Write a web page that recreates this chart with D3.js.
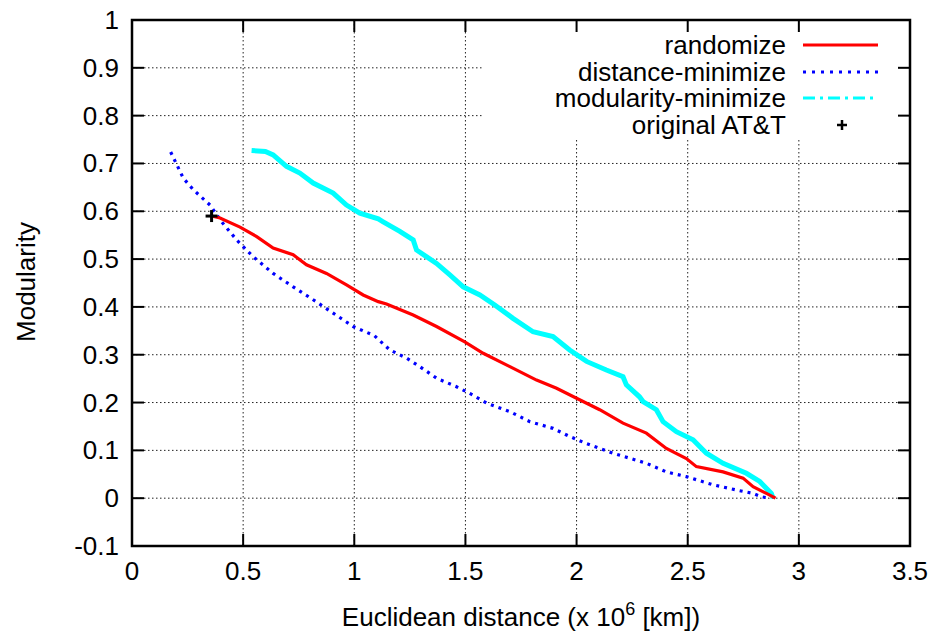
<!DOCTYPE html>
<html>
<head>
<meta charset="utf-8">
<script src="https://cdn.jsdelivr.net/npm/d3@7"></script>
<style>
  body { margin: 0; background: #fff; }
  svg { font-family: "Liberation Sans", Arial, Helvetica, sans-serif; }
  .grid line { stroke: #222; stroke-width: 1; stroke-dasharray: 1.5,2.5; }
</style>
</head>
<body>
<svg id="chart" width="937" height="635"></svg>
<script>
// values: [distance (x 10^6 km), modularity]
const randomize = [
  [0.358, 0.590], [0.396, 0.586], [0.486, 0.567], [0.561, 0.547], [0.635, 0.523],
  [0.725, 0.509], [0.785, 0.488], [0.875, 0.470], [0.965, 0.446], [1.040, 0.425],
  [1.108, 0.411], [1.145, 0.406], [1.265, 0.383], [1.370, 0.359], [1.497, 0.327],
  [1.580, 0.303], [1.700, 0.275], [1.820, 0.247], [1.910, 0.230], [2.000, 0.209],
  [2.104, 0.185], [2.209, 0.157], [2.314, 0.136], [2.404, 0.104], [2.494, 0.083],
  [2.539, 0.066], [2.659, 0.055], [2.749, 0.042], [2.794, 0.024], [2.854, 0.010],
  [2.895, 0.000]
];
const distanceMin = [
  [0.174, 0.724], [0.231, 0.669], [0.276, 0.645], [0.351, 0.613], [0.403, 0.578],
  [0.471, 0.540], [0.545, 0.505], [0.635, 0.470], [0.725, 0.442], [0.815, 0.415],
  [0.905, 0.387], [0.995, 0.359], [1.090, 0.340], [1.160, 0.310], [1.235, 0.293],
  [1.295, 0.275], [1.370, 0.251], [1.460, 0.233], [1.520, 0.219], [1.595, 0.199],
  [1.700, 0.181], [1.790, 0.160], [1.894, 0.146], [1.969, 0.129], [2.040, 0.115],
  [2.164, 0.094], [2.314, 0.073], [2.404, 0.055], [2.494, 0.045], [2.614, 0.028],
  [2.719, 0.017], [2.794, 0.010], [2.831, 0.003], [2.869, 0.000]
];
const modularityMin = [
  [0.538, 0.727], [0.600, 0.725], [0.635, 0.718], [0.695, 0.694], [0.755, 0.680],
  [0.815, 0.659], [0.905, 0.638], [0.965, 0.613], [1.025, 0.596], [1.108, 0.584],
  [1.130, 0.578], [1.205, 0.558], [1.265, 0.540], [1.280, 0.519], [1.370, 0.491],
  [1.430, 0.467], [1.490, 0.442], [1.565, 0.425], [1.632, 0.404], [1.714, 0.376],
  [1.804, 0.348], [1.894, 0.338], [1.969, 0.310], [2.045, 0.286], [2.134, 0.268],
  [2.209, 0.254], [2.224, 0.237], [2.283, 0.212], [2.299, 0.202], [2.359, 0.185],
  [2.389, 0.160], [2.449, 0.139], [2.524, 0.122], [2.584, 0.094], [2.659, 0.073],
  [2.764, 0.052], [2.824, 0.035], [2.876, 0.010], [2.884, 0.000]
];
const originalATT = [[0.358, 0.590]];

const xTicks = [0, 0.5, 1, 1.5, 2, 2.5, 3, 3.5];
const yTicks = [-0.1, 0, 0.1, 0.2, 0.3, 0.4, 0.5, 0.6, 0.7, 0.8, 0.9, 1];
const legendNames = ["randomize", "distance-minimize", "modularity-minimize", "original AT&T"];

const plotL = 132, plotR = 910, plotT = 20, plotB = 546;
const fontSize = 26;
const svg = d3.select("#chart");
const x = d3.scaleLinear().domain([0, 3.5]).range([plotL, plotR]);
const y = d3.scaleLinear().domain([-0.1, 1]).range([plotB, plotT]);

// grid
let grid = svg.append("g").attr("class", "grid");
grid.selectAll("line.v").data(xTicks.slice(1, -1)).join("line")
    .attr("class", "v")
    .attr("x1", d => x(d)).attr("x2", d => x(d))
    .attr("y1", plotT).attr("y2", plotB);
grid.selectAll("line.h").data(yTicks.slice(1, -1)).join("line")
    .attr("class", "h")
    .attr("x1", plotL).attr("x2", plotR)
    .attr("y1", d => y(d)).attr("y2", d => y(d));

// key background hides grid behind it
svg.append("rect")
    .attr("x", 484).attr("y", plotT + 1)
    .attr("width", plotR - 485).attr("height", 119)
    .attr("fill", "#fff");

// axes with inward ticks, mirrored on top/right
const tickLen = 12;
let axes = svg.append("g").attr("stroke", "#000").attr("stroke-width", 2);
xTicks.forEach(t => {
    axes.append("line").attr("x1", x(t)).attr("x2", x(t)).attr("y1", plotB).attr("y2", plotB - tickLen);
    axes.append("line").attr("x1", x(t)).attr("x2", x(t)).attr("y1", plotT).attr("y2", plotT + tickLen);
});
yTicks.forEach(t => {
    axes.append("line").attr("x1", plotL).attr("x2", plotL + tickLen).attr("y1", y(t)).attr("y2", y(t));
    axes.append("line").attr("x1", plotR).attr("x2", plotR - tickLen).attr("y1", y(t)).attr("y2", y(t));
});
axes.append("rect").attr("x", plotL).attr("y", plotT)
    .attr("width", plotR - plotL).attr("height", plotB - plotT)
    .attr("fill", "none").attr("stroke-width", 2.5);

// tick labels
const fmt = d => String(d);
svg.append("g").selectAll("text").data(xTicks).join("text")
    .attr("x", d => x(d)).attr("y", 580)
    .attr("text-anchor", "middle").attr("font-size", fontSize)
    .text(fmt);
svg.append("g").selectAll("text").data(yTicks).join("text")
    .attr("x", 119).attr("y", d => y(d) + 9)
    .attr("text-anchor", "end").attr("font-size", fontSize)
    .text(fmt);

// axis titles
let xt = svg.append("text").attr("x", 521).attr("y", 626)
    .attr("text-anchor", "middle").attr("font-size", fontSize);
xt.append("tspan").text("Euclidean distance (x 10");
xt.append("tspan").attr("dy", -11).attr("font-size", 18).text("6");
xt.append("tspan").attr("dy", 11).text(" [km])");
svg.append("text")
    .attr("transform", "translate(35,282) rotate(-90)")
    .attr("text-anchor", "middle").attr("font-size", fontSize)
    .text("Modularity");

// series
const line = d3.line().x(d => x(d[0])).y(d => y(d[1]));
svg.append("path").datum(modularityMin).attr("d", line)
    .attr("fill", "none").attr("stroke", "#00ffff").attr("stroke-width", 5)
    .attr("stroke-linejoin", "miter");
svg.append("path").datum(distanceMin).attr("d", line)
    .attr("fill", "none").attr("stroke", "#0000ff").attr("stroke-width", 3.2)
    .attr("stroke-dasharray", "3,5");
svg.append("path").datum(randomize).attr("d", line)
    .attr("fill", "none").attr("stroke", "#ff0000").attr("stroke-width", 3.2);

const plus = (g, cx, cy, s) => {
    g.append("line").attr("x1", cx - s).attr("x2", cx + s).attr("y1", cy).attr("y2", cy);
    g.append("line").attr("x1", cx).attr("x2", cx).attr("y1", cy - s).attr("y2", cy + s);
};
let pts = svg.append("g").attr("stroke", "#000").attr("stroke-width", 3);
originalATT.forEach(d => plus(pts, x(d[0]), y(d[1]), 6));

// key
const keyRows = [45, 72, 98, 125];
const keyStyles = [
    {stroke: "#ff0000", dash: null},
    {stroke: "#0000ff", dash: "3,6"},
    {stroke: "#00ffff", dash: "12,5,3,5"},
    null
];
let key = svg.append("g");
legendNames.forEach((name, i) => {
    key.append("text").attr("x", 786).attr("y", keyRows[i] + 9)
        .attr("text-anchor", "end").attr("font-size", fontSize).text(name);
    let st = keyStyles[i];
    if (st) {
        key.append("line").attr("x1", 803).attr("x2", 878)
            .attr("y1", keyRows[i]).attr("y2", keyRows[i])
            .attr("stroke", st.stroke).attr("stroke-width", 3)
            .attr("stroke-dasharray", st.dash);
    } else {
        let g = key.append("g").attr("stroke", "#000").attr("stroke-width", 2.5);
        plus(g, 842, keyRows[i], 5);
    }
});
</script>
</body>
</html>
